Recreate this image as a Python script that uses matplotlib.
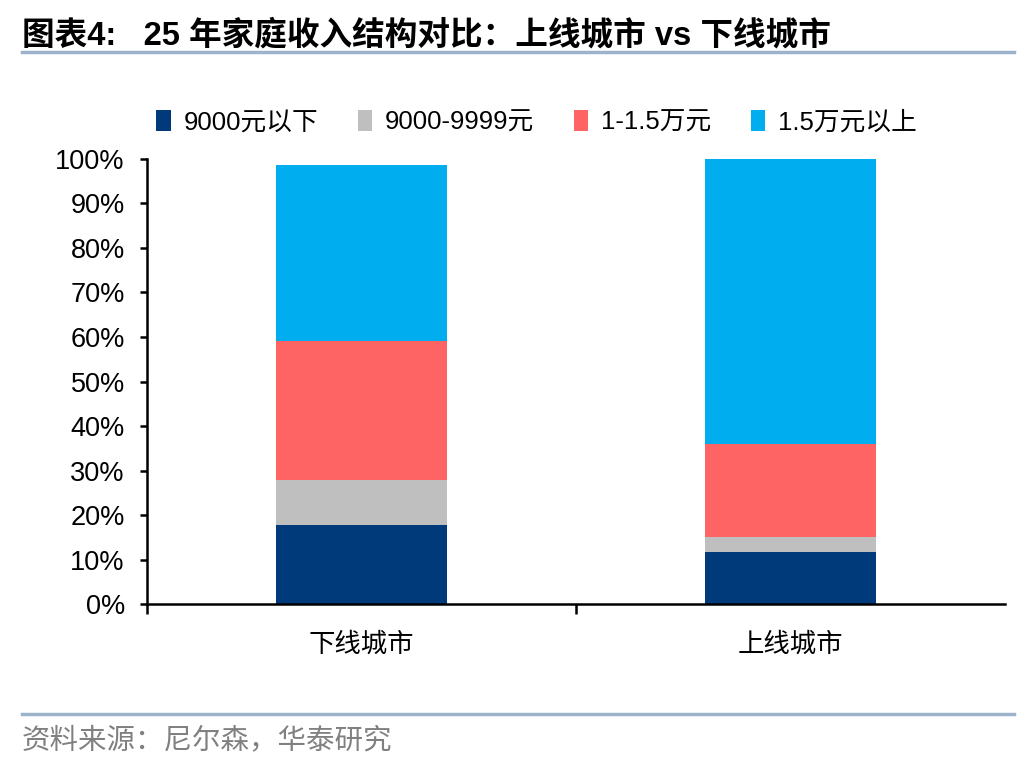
import matplotlib
matplotlib.use('Agg')
import matplotlib.pyplot as plt
from matplotlib.ticker import PercentFormatter, FixedLocator

plt.rcParams['font.family'] = ['Liberation Sans', 'Noto Sans CJK SC', 'DejaVu Sans']

# data (shares of households, %)
cities = ['下线城市', '上线城市']
groups = ['9000元以下', '9000-9999元', '1-1.5万元', '1.5万元以上']
below_9000 = [17.8, 11.7]
from_9000_9999 = [10.1, 3.4]
from_1_15w = [31.1, 20.9]
above_15w = [39.7, 64.0]
colors = ['#003A7A', '#BFBFBF', '#FF6464', '#00AEEF']

fig = plt.figure(figsize=(10.36, 7.64), dpi=100)
ax = fig.add_axes([0.1419, 0.2094, 0.8281, 0.5825])

series = [below_9000, from_9000_9999, from_1_15w, above_15w]
x = range(len(cities))
bottom = [0.0] * len(cities)
for vals, name, c in zip(series, groups, colors):
    ax.bar(x, vals, width=0.4, bottom=bottom, color=c, label=name)
    bottom = [b + v for b, v in zip(bottom, vals)]

ax.set_xlim(-0.5, 1.5)
ax.set_ylim(0, 100)
ax.set_yticks(range(0, 101, 10))
ax.yaxis.set_major_formatter(PercentFormatter(decimals=0))
ax.tick_params(axis='y', labelsize=19.5, width=1.8, length=5, direction='out', pad=11)

# category labels centered, ticks between categories
ax.set_xticks(list(x))
ax.set_xticklabels(cities, fontsize=19)
ax.tick_params(axis='x', length=0, pad=20)
ax.xaxis.set_minor_locator(FixedLocator([-0.5, 0.5]))
ax.tick_params(axis='x', which='minor', length=7, width=1.8, direction='out')

for s in ['top', 'right']:
    ax.spines[s].set_visible(False)
for s in ['left', 'bottom']:
    ax.spines[s].set_linewidth(1.8)

fig.legend(loc='center', bbox_to_anchor=(0.518, 0.84), ncol=4, frameon=False,
           fontsize=18.5, handlelength=0.55, handleheight=0.85, handletextpad=0.5,
           columnspacing=1.55)

# header and footer
fig.text(0.021, 0.953, '图表4:   25 年家庭收入结构对比：上线城市 vs 下线城市',
         fontsize=23.5, fontweight='bold', va='center', ha='left')
fig.add_artist(plt.Line2D([0.021, 0.979], [0.932, 0.932], color='#9DB3CB', lw=2.5))
fig.add_artist(plt.Line2D([0.021, 0.979], [0.066, 0.066], color='#9DB3CB', lw=2.5))
fig.text(0.021, 0.031, '资料来源：尼尔森，华泰研究', fontsize=20.5, color='#808080',
         va='center', ha='left')

fig.savefig('out.png', dpi=100)
